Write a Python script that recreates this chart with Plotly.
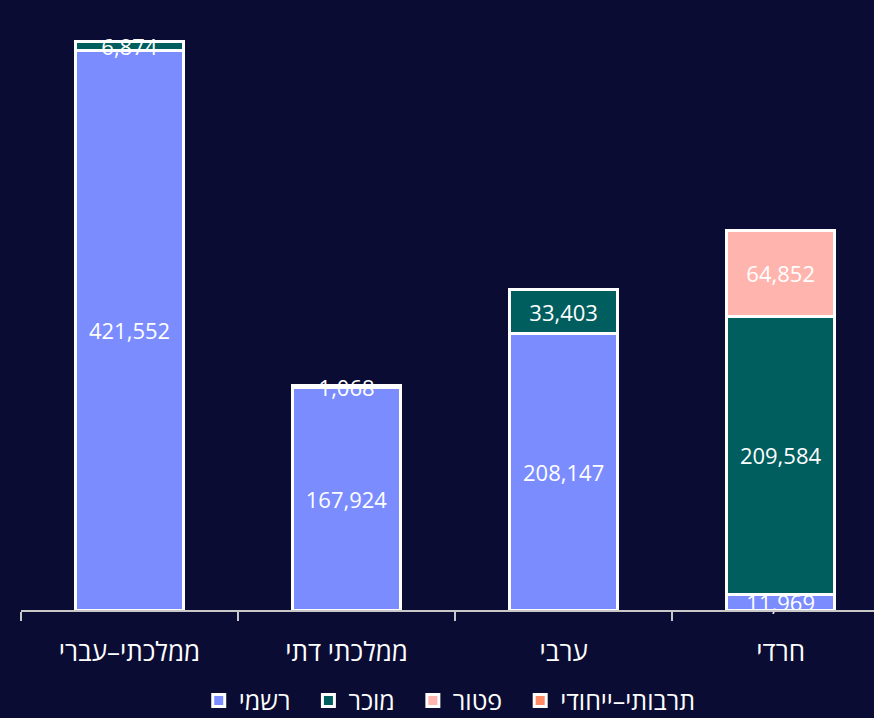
import plotly.graph_objects as go

categories = ["ממלכתי–עברי", "ממלכתי דתי", "ערבי", "חרדי"]
series_names = ["רשמי", "מוכר", "פטור", "תרבותי–ייחודי"]
rishmi = [421552, 167924, 208147, 11969]
mukar = [6874, 1068, 33403, 209584]
patur = [0, 0, 0, 64852]
tarbuti = [0, 0, 0, 0]
colors = ["#7b8cff", "#005e5f", "#ffb4ad", "#ff8a66"]

BG = "#0a0c33"
FONT = "Open Sans"

fig = go.Figure()
for name, vals, col in zip(series_names, [rishmi, mukar, patur, tarbuti], colors):
    yv = [v if v else None for v in vals]
    txt = [f"{v:,}" if v else "" for v in vals]
    fig.add_trace(go.Bar(
        x=categories, y=yv, name=name + "\u00a0\u00a0", text=txt,
        textposition="inside", insidetextanchor="middle", textangle=0,
        textfont=dict(color="white", size=22, family=FONT),
        marker=dict(color=col, line=dict(color="white", width=3)),
        cliponaxis=False, width=0.5,
    ))

fig.update_layout(
    barmode="stack",
    width=874, height=718,
    paper_bgcolor=BG, plot_bgcolor=BG,
    margin=dict(l=21, r=0, t=13, b=108, autoexpand=False),
    font=dict(family=FONT, color="white", size=20),
    uniformtext=dict(minsize=22, mode="show"),
    showlegend=True,
    legend=dict(orientation="h", xref="container", yref="container",
                x=0.522, xanchor="center", y=0.024, yanchor="middle",
                font=dict(size=25, color="white", family=FONT), bgcolor="rgba(0,0,0,0)",
                itemwidth=30, traceorder="normal"),
    xaxis=dict(range=[-0.5, 3.43], showline=True, linecolor="#c8c8c8", linewidth=2,
               ticks="outside", tickson="boundaries", ticklen=9, tickcolor="#c8c8c8", tickwidth=2,
               ticklabelstandoff=18, automargin=False,
               tickfont=dict(size=26, color="white", family=FONT), showgrid=False, zeroline=False,
               fixedrange=True),
    yaxis=dict(range=[0, 450000], visible=False, showgrid=False, zeroline=False, automargin=False),
)

fig.write_html("out.html", config={"displayModeBar": False},
               post_script="document.body.style.margin='0';document.body.style.overflow='hidden';")
